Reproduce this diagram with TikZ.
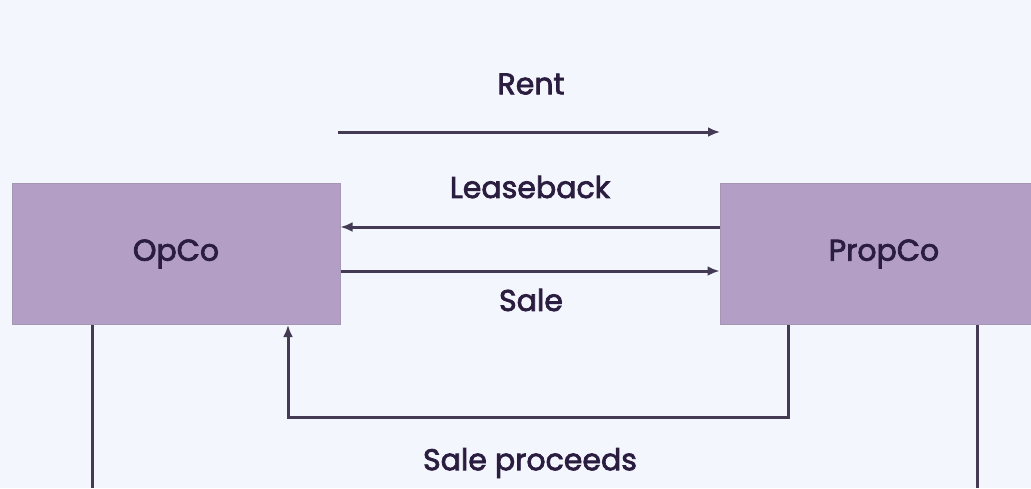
\documentclass[tikz,border=0pt]{standalone}
\usepackage{fontspec}
\setmainfont{Poppins}
\newfontfamily\labelfont{Poppins}[BoldFont={Poppins}, BoldFeatures={FakeBold=2.5}]
\usetikzlibrary{arrows.meta}
\definecolor{bg}{HTML}{F3F6FD}
\definecolor{boxfill}{HTML}{B39FC5}
\definecolor{boxedge}{HTML}{A596B4}
\definecolor{ink}{HTML}{2B1D3F}
\definecolor{wire}{HTML}{453A54}
\tikzset{
  entity/.style={draw=boxedge, line width=1pt, fill=boxfill, minimum width=328pt,
    minimum height=141pt, inner sep=0pt, text=ink, font=\labelfont\bfseries\fontsize{30}{36}\selectfont},
  flowlabel/.style={text=ink, inner sep=0pt, font=\labelfont\bfseries\fontsize{30}{36}\selectfont},
  wireline/.style={draw=wire, line width=3pt},
  flow/.style={wireline, -{Latex[length=12pt,width=10pt]}},
}
\begin{document}
\begin{tikzpicture}[x=1pt,y=-1pt]
  \path[clip] (0,0) rectangle (1031,488);
  \fill[bg] (0,0) rectangle (1031,488);

  % the two companies
  \node[entity] (opco) at (176,254) {OpCo};
  \node[entity] (propco) at (884,254) {PropCo};

  % free ends and bends
  \coordinate (rentA) at (338,132);
  \coordinate (rentB) at (720,132);
  \coordinate (lb) at (530,227);
  \coordinate (sl) at (530,271);
  \coordinate (spR) at (788,0);
  \coordinate (spL) at (288,0);
  \coordinate (spY) at (0,417);
  \coordinate (opLeg) at (92,488);
  \coordinate (propLeg) at (977,488);

  % rent payment
  \draw[flow] (rentA) -- (rentB);
  \node[flowlabel] (rent) at (531,84) {Rent};

  % leaseback and sale between the companies
  \draw[flow] (propco.west |- lb) -- (opco.east |- lb);
  \node[flowlabel] (leaseback) at (530,187) {Leaseback};
  \draw[flow] (opco.east |- sl) -- (propco.west |- sl);
  \node[flowlabel] (sale) at (531,300) {Sale};

  % sale proceeds loop
  \draw[flow] (propco.south -| spR) -- (spR |- spY) -- (spL |- spY) -- (opco.south -| spL);
  \node[flowlabel] (proceeds) at (530,463) {Sale proceeds};

  % legs running off the bottom
  \draw[wireline] (opco.south -| opLeg) -- (opLeg);
  \draw[wireline] (propco.south -| propLeg) -- (propLeg);
\end{tikzpicture}
\end{document}
